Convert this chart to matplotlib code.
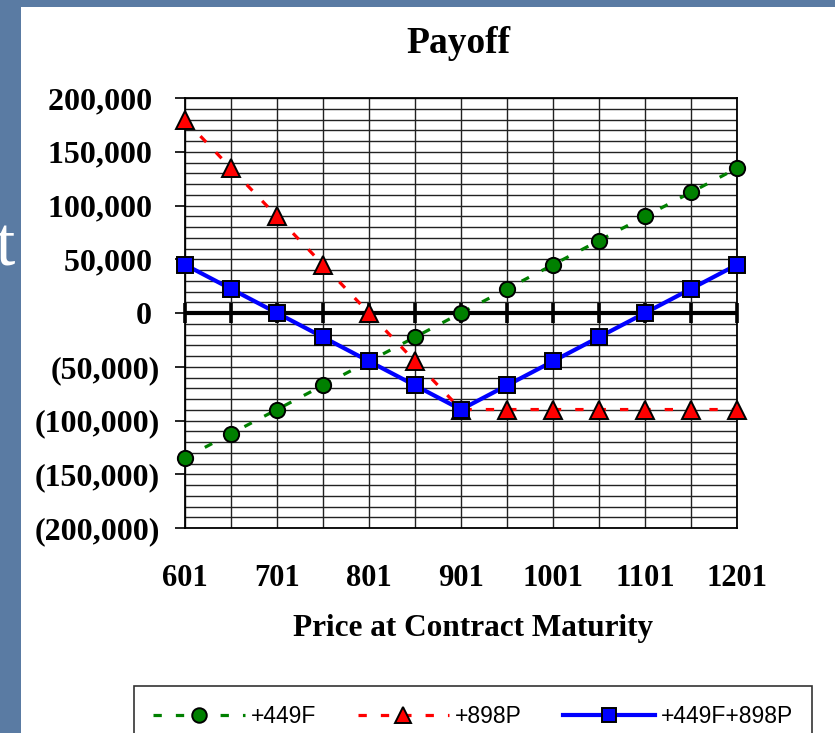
import matplotlib
matplotlib.use("Agg")
import matplotlib.pyplot as plt
from matplotlib.patches import Rectangle

# Price at maturity (categories)
prices = [601, 651, 701, 751, 801, 851, 901, 951, 1001, 1051, 1101, 1151, 1201]

# Payoffs
fut_449 = [-134700, -112250, -89800, -67350, -44900, -22450, 0,
           22450, 44900, 67350, 89800, 112250, 134700]
put_898 = [179600, 134700, 89800, 44900, 0, -44900, -89800,
           -89800, -89800, -89800, -89800, -89800, -89800]
combo = [44900, 22450, 0, -22450, -44900, -67350, -89800,
         -67350, -44900, -22450, 0, 22450, 44900]

x_labels = ["601", "701", "801", "901", "1001", "1101", "1201"]
y_ticks = [200000, 150000, 100000, 50000, 0, -50000, -100000, -150000, -200000]


def fmt_y(v):
    if v < 0:
        return "({:,})".format(-v)
    return "{:,} ".format(v)


W, H = 835, 733
fig = plt.figure(figsize=(W / 100, H / 100), dpi=100)
fig.patch.set_facecolor("#5a7ba3")

# white chart panel on the slide
fig.patches.append(Rectangle((21 / W, 0), 1 - 21 / W, 1 - 7 / H,
                             transform=fig.transFigure, facecolor="white",
                             edgecolor="none", zorder=-10))
# leftover slide text
fig.text(15 / W, 1 - 266 / H, "t", color="white", fontsize=50,
         family="Liberation Serif", ha="right", va="baseline", zorder=-5)

ax = fig.add_axes([185 / W, 1 - 528 / H, (737 - 185) / W, (528 - 98) / H])
ax.set_facecolor("white")

serif = {"family": "Liberation Serif", "weight": "bold"}

# grid
ax.set_xlim(601, 1201)
ax.set_ylim(-200000, 200000)
ax.set_xticks(prices, minor=True)
ax.set_xticks(prices[::2])
ax.set_xticklabels(x_labels, fontdict=serif, fontsize=22)
ax.set_yticks(y_ticks)
ax.set_yticklabels([fmt_y(v) for v in y_ticks], fontdict=serif, fontsize=23)
ax.set_yticks(range(-200000, 200001, 10000), minor=True)
ax.grid(True, which="both", color="#222222", lw=1.0, zorder=0)
ax.set_axisbelow(True)
ax.tick_params(axis="x", which="both", length=0, pad=26)
ax.tick_params(axis="y", which="major", length=7, width=1.2, direction="out", pad=11)
ax.tick_params(axis="y", which="minor", length=0)
for s in ax.spines.values():
    s.set_color("black")
    s.set_linewidth(1.3)

# zero axis with category ticks
ax.axhline(0, color="black", lw=3, zorder=2)
ax.plot(prices, [0] * len(prices), ls="none", marker="|", ms=15, mew=2.6,
        color="black", zorder=2, clip_on=False)

ax.plot(prices, fut_449, color="green", lw=2.3, ls=(0, (2.6, 4.4)),
        marker="o", ms=11, mfc="green", mec="black", mew=1.4,
        label="+449F", zorder=3, clip_on=False)
ax.plot(prices, put_898, color="red", lw=2.3, ls=(0, (2.6, 4.4)),
        marker="^", ms=12.5, mfc="red", mec="black", mew=1.4,
        label="+898P", zorder=4, clip_on=False)
ax.plot(prices, combo, color="blue", lw=3, ls="-",
        marker="s", ms=11, mfc="blue", mec="black", mew=1.4,
        label="+449F+898P", zorder=5, clip_on=False)

fig.text(458 / W, 1 - 53 / H, "Payoff", fontsize=27, ha="center",
         va="baseline", **serif)
fig.text(473 / W, 1 - 636 / H, "Price at Contract Maturity", fontsize=22.5,
         ha="center", va="baseline", **serif)

leg = fig.legend(loc="upper left", bbox_to_anchor=(134 / W, 1 - 686 / H),
                 ncol=3, numpoints=1, handlelength=4.0, handletextpad=0.25,
                 columnspacing=1.8, borderpad=0.85, borderaxespad=0,
                 fancybox=False, frameon=True, markerscale=0.95,
                 prop={"family": "Liberation Sans", "size": 16.5})
leg.get_frame().set_edgecolor("black")
leg.get_frame().set_linewidth(1.2)

fig.savefig("out.png", dpi=100, facecolor=fig.get_facecolor())
